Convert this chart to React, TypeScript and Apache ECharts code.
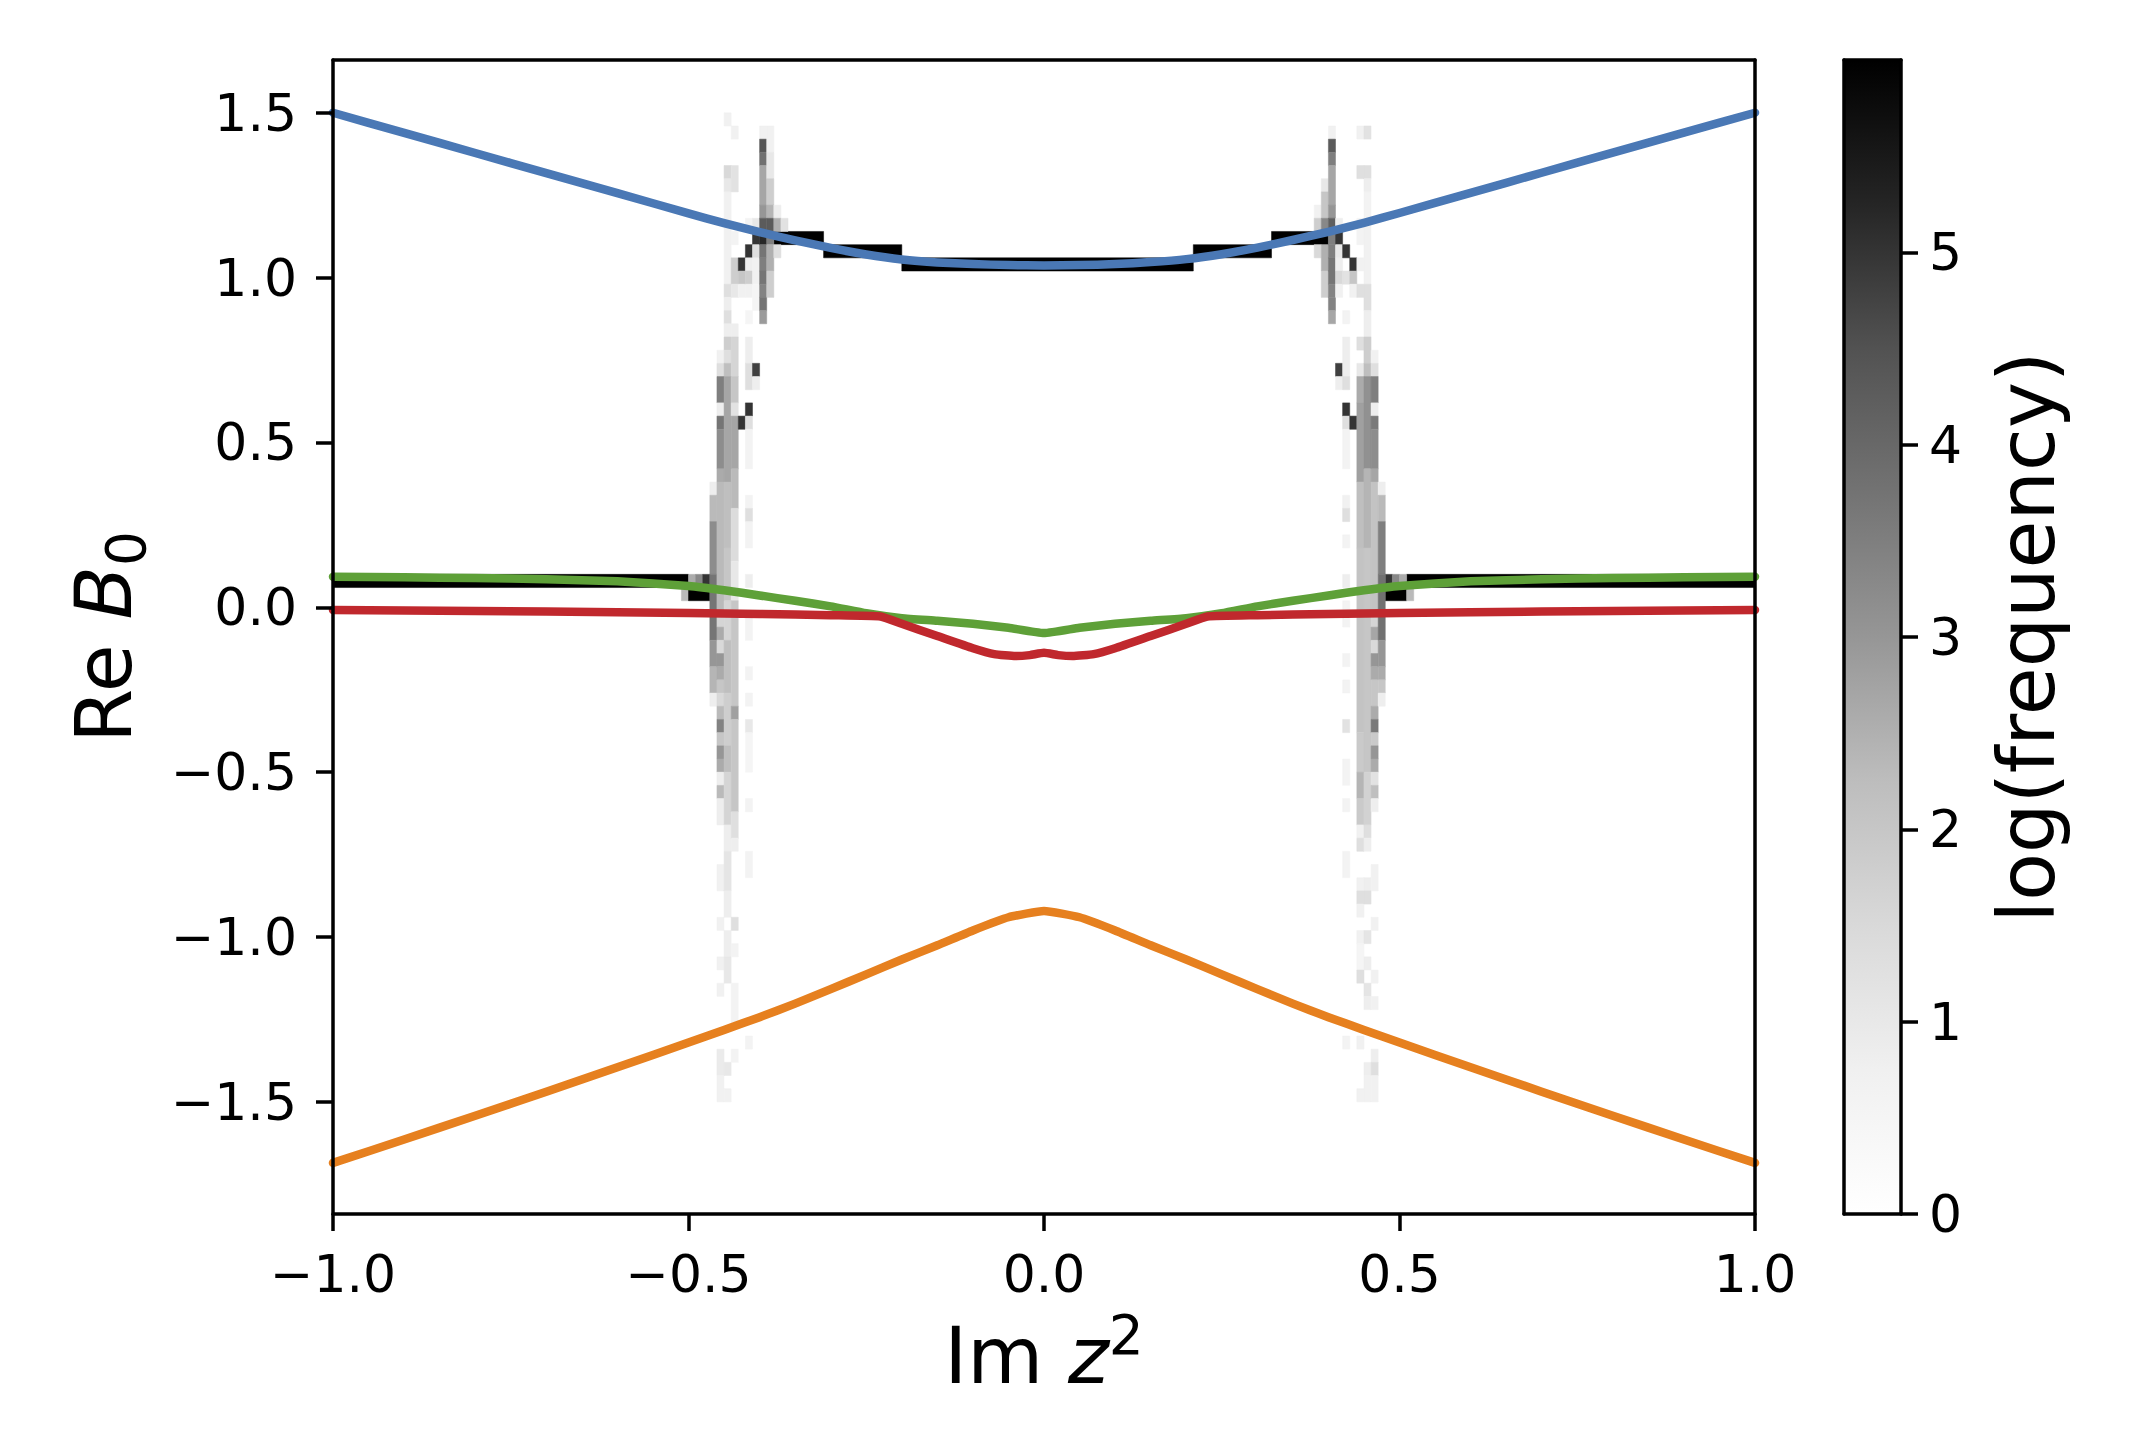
import React, { useEffect, useRef } from 'react';
import * as echarts from 'echarts';

// ---------- axes ----------
const X_MIN = -1;
const X_MAX = 1;
const Y_MIN = -1.84;
const Y_MAX = 1.66;
const CB_MAX = 6.0;
const xTicks = [-1, -0.5, 0, 0.5, 1];
const yTicks = [-1.5, -1, -0.5, 0, 0.5, 1, 1.5];
const cbTicks = [0, 1, 2, 3, 4, 5];

// ---------- curves ----------
const lineX = [-1, -0.9, -0.8, -0.7, -0.6, -0.5, -0.45, -0.4, -0.35, -0.3, -0.25, -0.2, -0.15, -0.1, -0.05, 0,
  0.05, 0.1, 0.15, 0.2, 0.25, 0.3, 0.35, 0.4, 0.45, 0.5, 0.6, 0.7, 0.8, 0.9, 1];
const blueY = [1.5, 1.439, 1.378, 1.317, 1.256, 1.195, 1.165, 1.138, 1.113, 1.09, 1.07, 1.055, 1.046, 1.041, 1.038, 1.037,
  1.038, 1.041, 1.047, 1.056, 1.071, 1.091, 1.114, 1.139, 1.166, 1.196, 1.257, 1.318, 1.379, 1.44, 1.5];
const orangeY = [-1.685, -1.614, -1.542, -1.469, -1.395, -1.32, -1.282, -1.243, -1.202, -1.158, -1.113, -1.068, -1.025, -0.98, -0.94, -0.921,
  -0.94, -0.98, -1.025, -1.068, -1.113, -1.158, -1.202, -1.243, -1.282, -1.32, -1.395, -1.469, -1.542, -1.614, -1.685];
const greenY = [0.093, 0.091, 0.089, 0.085, 0.079, 0.065, 0.052, 0.036, 0.02, 0.003, -0.018, -0.033, -0.041, -0.05, -0.062, -0.078,
  -0.062, -0.05, -0.041, -0.033, -0.018, 0.003, 0.02, 0.036, 0.052, 0.065, 0.079, 0.085, 0.089, 0.091, 0.093];
const redX = [-1, -0.8, -0.6, -0.4, -0.3, -0.23, -0.2, -0.15, -0.1, -0.07, -0.04, -0.02, 0, 0.02, 0.04, 0.07, 0.1, 0.15, 0.2, 0.23, 0.3, 0.4, 0.6, 0.8, 1];
const redY = [-0.008, -0.011, -0.015, -0.02, -0.024, -0.028, -0.05, -0.087, -0.124, -0.142, -0.148, -0.145, -0.138,
  -0.145, -0.148, -0.142, -0.124, -0.087, -0.05, -0.028, -0.024, -0.02, -0.015, -0.011, -0.008];

// ---------- histogram (log frequency) ----------
const COL_W = 0.01;
// rectangles spanning several bins: [x0, x1, y0, y1, logFreq]
const bandCells = [
  [-1.0, -0.5, 0.06, 0.1, 6.0],
  [-0.5, -0.49, 0.06, 0.1, 2.6],
  [-0.49, -0.48, 0.06, 0.1, 3.3],
  [-0.48, -0.47, 0.06, 0.1, 5.0],
  [-0.51, -0.5, 0.02, 0.06, 2.3],
  [-0.5, -0.47, 0.02, 0.06, 6.0],
  [-0.38, -0.31, 1.1, 1.14, 6.0],
  [-0.31, -0.2, 1.06, 1.1, 6.0],
  [-0.2, 0.21, 1.02, 1.06, 6.0],
  [0.21, 0.32, 1.06, 1.1, 6.0],
  [0.32, 0.4, 1.1, 1.14, 6.0],
  [0.51, 1.0, 0.06, 0.1, 6.0],
  [0.48, 0.49, 0.06, 0.1, 5.0],
  [0.49, 0.5, 0.06, 0.1, 3.3],
  [0.5, 0.51, 0.06, 0.1, 2.6],
  [0.48, 0.51, 0.02, 0.06, 6.0],
  [0.51, 0.52, 0.02, 0.06, 2.3],
];
// single-column runs: [x0, y0, y1, logFreq]
const leftRuns = [
  [-0.47, 0.34, 0.38, 0.8], [-0.47, 0.26, 0.34, 2.3], [-0.47, 0.1, 0.26, 3.2], [-0.47, -0.1, 0.1, 3.7],
  [-0.47, -0.18, -0.1, 3.0], [-0.47, -0.26, -0.18, 2.4], [-0.47, -0.3, -0.26, 0.8],

  [-0.46, 0.74, 0.78, 0.7], [-0.46, 0.7, 0.74, 1.3], [-0.46, 0.62, 0.7, 3.5], [-0.46, 0.58, 0.62, 0.8],
  [-0.46, 0.54, 0.58, 3.7], [-0.46, 0.42, 0.54, 3.2], [-0.46, 0.38, 0.42, 2.6], [-0.46, -0.02, 0.38, 2.3],
  [-0.46, -0.06, -0.02, 1.6], [-0.46, -0.1, -0.06, 2.6], [-0.46, -0.14, -0.1, 1.5], [-0.46, -0.18, -0.14, 3.0],
  [-0.46, -0.22, -0.18, 2.6], [-0.46, -0.26, -0.22, 2.0], [-0.46, -0.3, -0.26, 1.5], [-0.46, -0.34, -0.3, 2.3],
  [-0.46, -0.38, -0.34, 3.4], [-0.46, -0.42, -0.38, 2.0], [-0.46, -0.46, -0.42, 3.0], [-0.46, -0.5, -0.46, 2.6],
  [-0.46, -0.54, -0.5, 0.8], [-0.46, -0.58, -0.54, 2.3], [-0.46, -0.66, -0.58, 0.8], [-0.46, -0.86, -0.78, 0.7],
  [-0.46, -0.98, -0.94, 0.7], [-0.46, -1.1, -1.06, 0.7], [-0.46, -1.18, -1.14, 0.7], [-0.46, -1.42, -1.34, 0.9],
  [-0.46, -1.5, -1.42, 0.7],

  [-0.45, 1.46, 1.5, 0.7], [-0.45, 1.3, 1.34, 1.5], [-0.45, 1.26, 1.3, 1.0], [-0.45, 0.98, 1.26, 0.7],
  [-0.45, 0.94, 0.98, 1.3], [-0.45, 0.9, 0.94, 0.8], [-0.45, 0.86, 0.9, 1.3], [-0.45, 0.82, 0.86, 0.8],
  [-0.45, 0.78, 0.82, 1.8], [-0.45, 0.74, 0.78, 1.3], [-0.45, 0.7, 0.74, 2.2], [-0.45, 0.38, 0.7, 2.7],
  [-0.45, 0.18, 0.38, 2.2], [-0.45, 0.02, 0.18, 2.0], [-0.45, -0.1, 0.02, 1.6], [-0.45, -0.26, -0.1, 2.2],
  [-0.45, -0.42, -0.26, 1.8], [-0.45, -0.5, -0.42, 2.2], [-0.45, -0.66, -0.5, 1.6], [-0.45, -0.74, -0.66, 0.8],
  [-0.45, -0.86, -0.74, 1.1], [-0.45, -0.94, -0.86, 0.8], [-0.45, -1.06, -0.98, 0.8], [-0.45, -1.14, -1.06, 1.0],
  [-0.45, -1.42, -1.38, 1.0], [-0.45, -1.5, -1.46, 0.7],

  [-0.44, 1.42, 1.46, 0.7], [-0.44, 1.26, 1.34, 1.2], [-0.44, 1.1, 1.14, 0.6], [-0.44, 0.98, 1.06, 1.8],
  [-0.44, 0.94, 0.98, 1.0], [-0.44, 0.82, 0.86, 0.8], [-0.44, 0.7, 0.82, 1.6], [-0.44, 0.62, 0.7, 2.0],
  [-0.44, 0.58, 0.62, 1.2], [-0.44, 0.42, 0.58, 2.7], [-0.44, 0.3, 0.42, 2.3], [-0.44, 0.14, 0.3, 1.4],
  [-0.44, 0.02, 0.14, 1.0], [-0.44, -0.3, 0.02, 2.0], [-0.44, -0.34, -0.3, 2.8], [-0.44, -0.62, -0.34, 2.0],
  [-0.44, -0.7, -0.62, 1.3], [-0.44, -0.74, -0.7, 0.8], [-0.44, -0.98, -0.94, 1.3], [-0.44, -1.06, -1.02, 0.6],
  [-0.44, -1.26, -1.14, 0.6], [-0.44, -1.38, -1.34, 0.6],

  [-0.43, 1.02, 1.06, 5.0], [-0.43, 0.98, 1.02, 2.0], [-0.43, 0.94, 0.98, 0.7], [-0.43, 0.54, 0.58, 5.0],

  [-0.42, 1.14, 1.18, 0.6], [-0.42, 1.06, 1.1, 5.0], [-0.42, 1.02, 1.06, 0.8], [-0.42, 0.98, 1.02, 1.8],
  [-0.42, 0.94, 0.98, 0.7], [-0.42, 0.86, 0.9, 0.5], [-0.42, 0.74, 0.82, 0.8], [-0.42, 0.66, 0.74, 1.3],
  [-0.42, 0.58, 0.62, 5.0], [-0.42, 0.54, 0.58, 1.3], [-0.42, 0.42, 0.54, 0.6], [-0.42, 0.3, 0.34, 0.6],
  [-0.42, 0.26, 0.3, 1.3], [-0.42, 0.18, 0.26, 0.6], [-0.42, 0.06, 0.1, 0.8], [-0.42, -0.1, -0.02, 0.6],
  [-0.42, -0.22, -0.18, 0.6], [-0.42, -0.3, -0.26, 0.6], [-0.42, -0.38, -0.34, 1.0], [-0.42, -0.5, -0.38, 0.5],
  [-0.42, -0.62, -0.58, 0.6], [-0.42, -0.82, -0.74, 0.6], [-0.42, -1.34, -1.3, 0.6],

  [-0.41, 1.14, 1.18, 1.0], [-0.41, 1.1, 1.14, 5.0], [-0.41, 1.06, 1.1, 1.3], [-0.41, 0.98, 1.06, 0.7],
  [-0.41, 0.9, 0.98, 0.5], [-0.41, 0.7, 0.74, 4.8], [-0.41, 0.66, 0.7, 0.8],

  [-0.4, 1.42, 1.46, 0.7], [-0.4, 1.38, 1.42, 4.4], [-0.4, 1.34, 1.38, 3.8], [-0.4, 1.22, 1.34, 2.7],
  [-0.4, 1.18, 1.22, 3.0], [-0.4, 1.14, 1.18, 4.3], [-0.4, 1.1, 1.14, 5.2], [-0.4, 1.06, 1.1, 3.7],
  [-0.4, 1.02, 1.06, 3.5], [-0.4, 0.98, 1.02, 3.7], [-0.4, 0.94, 0.98, 3.4], [-0.4, 0.9, 0.94, 3.7],
  [-0.4, 0.86, 0.9, 2.9],

  [-0.39, 1.38, 1.46, 0.7], [-0.39, 1.3, 1.38, 1.0], [-0.39, 1.22, 1.3, 1.8], [-0.39, 1.18, 1.22, 2.4],
  [-0.39, 1.14, 1.18, 4.3], [-0.39, 1.1, 1.14, 3.5], [-0.39, 1.02, 1.1, 2.5], [-0.39, 0.94, 1.02, 1.8],

  [-0.38, 1.18, 1.22, 0.8], [-0.38, 1.14, 1.18, 2.5], [-0.38, 1.06, 1.1, 1.3],
  [-0.37, 1.14, 1.18, 1.2],
];
const rightRuns = [
  [0.38, 1.18, 1.22, 0.7], [0.38, 1.14, 1.18, 1.8], [0.38, 1.06, 1.1, 1.5],

  [0.39, 1.26, 1.3, 1.0], [0.39, 1.18, 1.26, 2.0], [0.39, 1.14, 1.18, 3.3], [0.39, 1.02, 1.1, 2.5],
  [0.39, 0.94, 1.02, 1.8],

  [0.4, 1.42, 1.46, 0.7], [0.4, 1.38, 1.42, 4.3], [0.4, 1.34, 1.38, 3.5], [0.4, 1.22, 1.34, 2.7],
  [0.4, 1.18, 1.22, 3.0], [0.4, 1.14, 1.18, 4.2], [0.4, 1.1, 1.14, 3.5], [0.4, 1.06, 1.1, 3.5],
  [0.4, 1.02, 1.06, 3.7], [0.4, 0.98, 1.02, 3.7], [0.4, 0.94, 0.98, 3.4], [0.4, 0.9, 0.94, 3.4],
  [0.4, 0.86, 0.9, 2.7],

  [0.41, 1.14, 1.18, 0.8], [0.41, 1.1, 1.14, 5.0], [0.41, 1.06, 1.1, 1.0], [0.41, 1.02, 1.06, 0.8],
  [0.41, 0.98, 1.02, 1.5], [0.41, 0.94, 0.98, 0.7], [0.41, 0.7, 0.74, 4.8], [0.41, 0.66, 0.7, 0.8],

  [0.42, 1.06, 1.1, 5.0], [0.42, 0.98, 1.02, 1.2], [0.42, 0.86, 0.9, 0.6], [0.42, 0.7, 0.82, 0.8],
  [0.42, 0.66, 0.7, 1.3], [0.42, 0.58, 0.62, 5.0], [0.42, 0.54, 0.58, 1.3], [0.42, 0.42, 0.54, 0.6],
  [0.42, 0.3, 0.34, 0.7], [0.42, 0.26, 0.3, 1.3], [0.42, 0.18, 0.22, 0.6], [0.42, 0.06, 0.1, 0.8],
  [0.42, -0.06, 0.02, 0.6], [0.42, -0.18, -0.14, 0.6], [0.42, -0.26, -0.22, 0.6], [0.42, -0.38, -0.34, 1.2],
  [0.42, -0.54, -0.46, 0.6], [0.42, -0.62, -0.58, 0.6], [0.42, -0.82, -0.74, 0.6], [0.42, -1.34, -1.3, 0.6],

  [0.43, 1.02, 1.06, 5.0], [0.43, 0.98, 1.02, 2.0], [0.43, 0.94, 0.98, 0.7], [0.43, 0.54, 0.58, 5.0],

  [0.44, 1.42, 1.46, 0.7], [0.44, 1.3, 1.34, 1.3], [0.44, 1.1, 1.18, 0.6], [0.44, 1.02, 1.06, 0.7],
  [0.44, 0.94, 0.98, 1.3], [0.44, 0.78, 0.82, 1.3], [0.44, 0.7, 0.74, 1.0], [0.44, 0.62, 0.7, 2.6],
  [0.44, 0.38, 0.62, 2.8], [0.44, 0.18, 0.38, 2.2], [0.44, -0.38, 0.18, 2.1], [0.44, -0.5, -0.38, 1.9],
  [0.44, -0.58, -0.5, 2.4], [0.44, -0.66, -0.58, 1.9], [0.44, -0.7, -0.66, 0.7], [0.44, -0.74, -0.7, 1.3],
  [0.44, -0.86, -0.82, 0.7], [0.44, -0.9, -0.86, 1.3], [0.44, -0.94, -0.9, 0.7], [0.44, -1.02, -0.98, 0.7],
  [0.44, -1.1, -1.02, 0.5], [0.44, -1.14, -1.1, 1.3], [0.44, -1.34, -1.3, 0.7], [0.44, -1.5, -1.46, 0.7],

  [0.45, 1.42, 1.46, 1.2], [0.45, 1.3, 1.34, 1.3], [0.45, 1.26, 1.3, 0.8], [0.45, 1.18, 1.26, 0.6],
  [0.45, 0.98, 1.18, 0.7], [0.45, 0.9, 0.98, 1.3], [0.45, 0.82, 0.9, 0.8], [0.45, 0.74, 0.82, 1.8],
  [0.45, 0.7, 0.74, 2.2], [0.45, 0.42, 0.7, 3.1], [0.45, 0.18, 0.42, 2.4], [0.45, -0.5, 0.18, 2.0],
  [0.45, -0.66, -0.5, 1.7], [0.45, -0.7, -0.66, 1.3], [0.45, -0.74, -0.7, 0.8], [0.45, -0.86, -0.82, 0.8],
  [0.45, -0.9, -0.86, 1.3], [0.45, -1.02, -0.98, 1.1], [0.45, -1.1, -1.06, 0.8], [0.45, -1.18, -1.14, 1.1],
  [0.45, -1.22, -1.18, 0.8], [0.45, -1.42, -1.38, 0.8], [0.45, -1.5, -1.42, 0.7],

  [0.46, 0.74, 0.78, 0.7], [0.46, 0.7, 0.74, 1.3], [0.46, 0.62, 0.7, 3.5], [0.46, 0.58, 0.62, 0.8],
  [0.46, 0.54, 0.58, 3.6], [0.46, 0.42, 0.54, 3.2], [0.46, 0.38, 0.42, 2.7], [0.46, -0.02, 0.38, 2.1],
  [0.46, -0.06, -0.02, 1.6], [0.46, -0.1, -0.06, 2.7], [0.46, -0.14, -0.1, 1.5], [0.46, -0.18, -0.14, 3.0],
  [0.46, -0.22, -0.18, 2.6], [0.46, -0.3, -0.22, 2.0], [0.46, -0.34, -0.3, 2.6], [0.46, -0.38, -0.34, 3.6],
  [0.46, -0.42, -0.38, 1.9], [0.46, -0.46, -0.42, 3.0], [0.46, -0.5, -0.46, 2.6], [0.46, -0.54, -0.5, 1.2],
  [0.46, -0.58, -0.54, 2.2], [0.46, -0.62, -0.58, 0.8], [0.46, -0.86, -0.78, 0.7], [0.46, -0.98, -0.94, 0.7],
  [0.46, -1.14, -1.1, 0.7], [0.46, -1.22, -1.18, 0.7], [0.46, -1.38, -1.34, 0.8], [0.46, -1.42, -1.38, 1.3],
  [0.46, -1.5, -1.42, 0.7],

  [0.47, 0.34, 0.38, 0.8], [0.47, 0.26, 0.34, 2.3], [0.47, 0.1, 0.26, 3.5], [0.47, -0.1, 0.1, 3.8],
  [0.47, -0.18, -0.1, 3.0], [0.47, -0.22, -0.18, 2.6], [0.47, -0.26, -0.22, 2.0], [0.47, -0.3, -0.26, 0.8],
];

// ---------- styles ----------
const FONT = 'DejaVu Sans';
const TICK_FS = 52;
const LABEL_FS = 78;
const LABEL_LH = 98;
const SCRIPT_FS = 55;
const AXIS_W = 3.5;
const LINE_W = 8.5;
const COLORS = { blue: '#4a78b5', orange: '#e6801f', green: '#5ea038', red: '#c0282d' };
// matplotlib "Greys" colormap, [position, grey level]
const greysStops: [number, number][] = [
  [0, 255], [0.125, 240], [0.25, 217], [0.375, 189], [0.5, 150], [0.625, 115], [0.75, 82], [0.875, 37], [1, 0],
];

function grey(level: number) {
  const g = Math.round(level);
  return `rgb(${g},${g},${g})`;
}
function greyColor(v: number) {
  const t = Math.max(0, Math.min(1, v / CB_MAX));
  for (let i = 1; i < greysStops.length; i++) {
    const [t1, g1] = greysStops[i];
    const [t0, g0] = greysStops[i - 1];
    if (t <= t1) return grey(g0 + ((t - t0) / (t1 - t0)) * (g1 - g0));
  }
  return grey(0);
}
const minus = (s: string) => s.replace('-', '\u2212');

const mathRich = (scriptAlign: 'top' | 'bottom') => ({
  a: { fontFamily: FONT, fontSize: LABEL_FS, lineHeight: LABEL_LH, color: '#000' },
  b: { fontFamily: FONT, fontSize: LABEL_FS, lineHeight: LABEL_LH, fontStyle: 'italic', color: '#000' },
  c: { fontFamily: FONT, fontSize: SCRIPT_FS, verticalAlign: scriptAlign, color: '#000' },
});

export default function App() {
  const ref = useRef<HTMLDivElement>(null);

  useEffect(() => {
    if (!ref.current) return;
    const chart = echarts.init(ref.current, undefined, { renderer: 'svg' });

    const cells = [
      ...bandCells,
      ...leftRuns.map(([x0, y0, y1, v]) => [x0, x0 + COL_W, y0, y1, v]),
      ...rightRuns.map(([x0, y0, y1, v]) => [x0, x0 + COL_W, y0, y1, v]),
    ];

    const frameAxis = (extra: any) => ({
      type: 'value',
      z: 10,
      axisLine: { show: true, onZero: false, lineStyle: { color: '#000', width: AXIS_W } },
      axisTick: { show: false },
      axisLabel: { show: false },
      splitLine: { show: false },
      ...extra,
    });

    const mkLine = (xs: number[], ys: number[], color: string) => ({
      type: 'line',
      xAxisIndex: 0,
      yAxisIndex: 0,
      data: xs.map((x, i) => [x, ys[i]]),
      showSymbol: false,
      symbol: 'none',
      smooth: 0.15,
      lineStyle: { color, width: LINE_W, cap: 'round', join: 'round' },
      z: 3,
    });

    const option: any = {
      animation: false,
      backgroundColor: '#fff',
      grid: [
        { left: 333, right: 388, top: 60, bottom: 222, containLabel: false },
        { left: 1844, width: 57, top: 60, bottom: 222, containLabel: false },
      ],
      xAxis: [
        frameAxis({
          gridIndex: 0, position: 'bottom', min: X_MIN, max: X_MAX,
          axisTick: { show: true, length: 17, lineStyle: { color: '#000', width: AXIS_W }, customValues: xTicks },
          axisLabel: {
            show: true, customValues: xTicks, margin: 34, color: '#000', fontFamily: FONT, fontSize: TICK_FS,
            formatter: (v: number) => minus(v.toFixed(1)),
          },
          name: '{a|Im }{b|z}{c|2}',
          nameLocation: 'middle',
          nameGap: 93,
          nameTextStyle: { color: '#000', rich: mathRich('top') },
        }),
        frameAxis({ gridIndex: 0, position: 'top', min: X_MIN, max: X_MAX }),
        frameAxis({ gridIndex: 1, position: 'bottom', min: 0, max: 1 }),
        frameAxis({ gridIndex: 1, position: 'top', min: 0, max: 1 }),
      ],
      yAxis: [
        frameAxis({
          gridIndex: 0, position: 'left', min: Y_MIN, max: Y_MAX,
          axisTick: { show: true, length: 17, lineStyle: { color: '#000', width: AXIS_W }, customValues: yTicks },
          axisLabel: {
            show: true, customValues: yTicks, margin: 36, color: '#000', fontFamily: FONT, fontSize: TICK_FS,
            formatter: (v: number) => minus(v.toFixed(1)),
          },
          name: '{a|Re }{b|B}{c|0}',
          nameLocation: 'middle',
          nameGap: 180,
          nameTextStyle: { color: '#000', rich: mathRich('bottom') },
        }),
        frameAxis({ gridIndex: 0, position: 'right', min: Y_MIN, max: Y_MAX }),
        frameAxis({
          gridIndex: 1, position: 'right', min: 0, max: CB_MAX,
          axisTick: { show: true, length: 17, lineStyle: { color: '#000', width: AXIS_W }, customValues: cbTicks },
          axisLabel: {
            show: true, customValues: cbTicks, margin: 28, color: '#000', fontFamily: FONT, fontSize: TICK_FS,
            formatter: (v: number) => String(v),
          },
          name: 'log(frequency)',
          nameLocation: 'middle',
          nameGap: 87,
          nameTextStyle: { color: '#000', fontFamily: FONT, fontSize: LABEL_FS, lineHeight: 78 },
        }),
        frameAxis({ gridIndex: 1, position: 'left', min: 0, max: CB_MAX }),
      ],
      series: [
        {
          type: 'custom',
          xAxisIndex: 0,
          yAxisIndex: 0,
          clip: true,
          z: 1,
          encode: { x: [0, 1], y: [2, 3] },
          data: cells,
          renderItem: (_p: any, api: any) => {
            const a = api.coord([api.value(0), api.value(3)]);
            const b = api.coord([api.value(1), api.value(2)]);
            const c = greyColor(api.value(4));
            return {
              type: 'rect',
              shape: { x: a[0], y: a[1], width: b[0] - a[0], height: b[1] - a[1] },
              style: { fill: c, stroke: c, lineWidth: 0.5 },
            };
          },
        },
        mkLine(lineX, blueY, COLORS.blue),
        mkLine(lineX, orangeY, COLORS.orange),
        mkLine(lineX, greenY, COLORS.green),
        mkLine(redX, redY, COLORS.red),
        {
          type: 'custom',
          xAxisIndex: 2,
          yAxisIndex: 2,
          z: 1,
          data: [[0, 1, 0, CB_MAX]],
          renderItem: (_p: any, api: any) => {
            const a = api.coord([api.value(0), api.value(3)]);
            const b = api.coord([api.value(1), api.value(2)]);
            const stops = greysStops
              .map(([t, g]) => ({ offset: 1 - t, color: grey(g) }))
              .sort((p, q) => p.offset - q.offset);
            return {
              type: 'rect',
              shape: { x: a[0], y: a[1], width: b[0] - a[0], height: b[1] - a[1] },
              style: { fill: new echarts.graphic.LinearGradient(0, 0, 0, 1, stops) },
            };
          },
        },
      ],
    };

    chart.setOption(option);
    return () => chart.dispose();
  }, []);

  return (
    <div
      ref={ref}
      style={{ position: 'fixed', left: 0, top: 0, width: 2143, height: 1436, background: '#fff' }}
    />
  );
}
